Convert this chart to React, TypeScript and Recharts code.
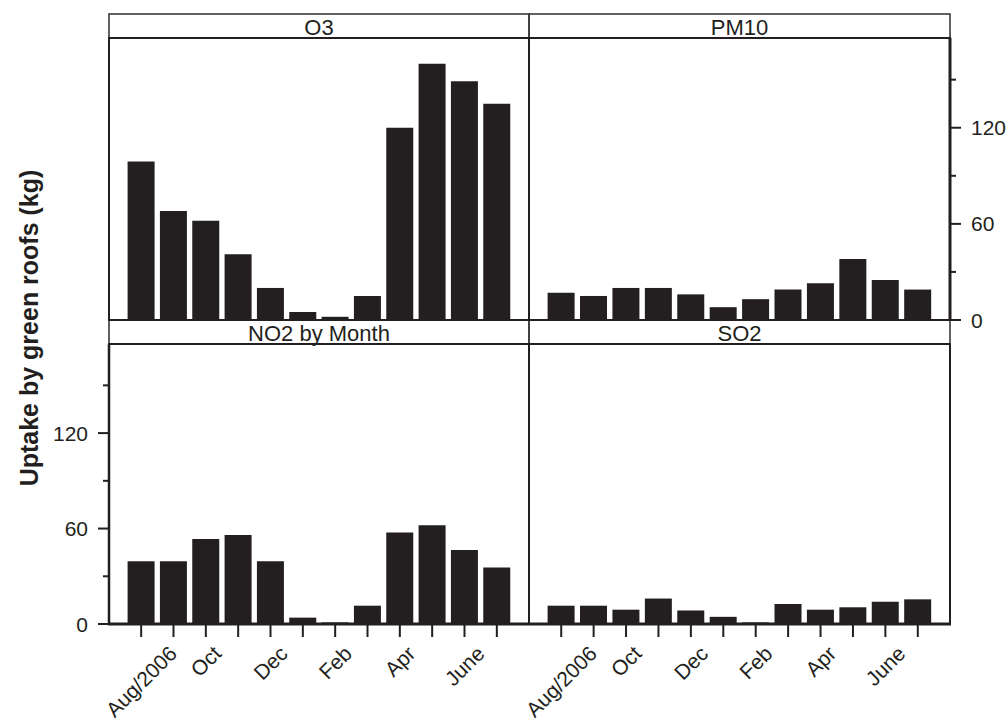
import { Bar, BarChart, XAxis, YAxis } from "recharts";

const MONTHS = ["Aug/2006", "Sep", "Oct", "Nov", "Dec", "Jan", "Feb", "Mar", "Apr", "May", "June", "Jul"];
const LABELLED_MONTHS = ["Aug/2006", "Oct", "Dec", "Feb", "Apr", "June"];

const O3 = [99, 68, 62, 41, 20, 5, 2, 15, 120, 160, 149, 135];
const PM10 = [17, 15, 20, 20, 16, 8, 13, 19, 23, 38, 25, 19];
const NO2 = [39.5, 39.5, 53.5, 56, 39.5, 4, 1, 11.5, 57.5, 62, 46.5, 35.5];
const SO2 = [11.5, 11.5, 9, 16, 8.5, 4.5, 1, 12.5, 9, 10.5, 14, 15.5];

const Y_DOMAIN: [number, number] = [0, 176];
const Y_TICKS = [0, 30, 60, 90, 120, 150];
const Y_LABELLED = [0, 60, 120];

const INK = "#231f20";
const FONT = "'Liberation Sans', Arial, Helvetica, sans-serif";

const data = MONTHS.map((month, i) => ({ month, O3: O3[i], PM10: PM10[i], NO2: NO2[i], SO2: SO2[i] }));

// panel grid (page pixels)
const L = 109;
const M = 529;
const R = 950;
const STRIP_TOP = 14;
const TOP_PLOT = 38;
const MID = 320;
const BOTTOM_PLOT = 344;
const BASE = 624;

let measureCtx: CanvasRenderingContext2D | null = null;
function textWidth(s: string, font: string) {
  if (!measureCtx) measureCtx = document.createElement("canvas").getContext("2d");
  if (!measureCtx) return s.length * 10;
  measureCtx.font = font;
  return measureCtx.measureText(s).width;
}

function YTick({ x, y, payload, side }: any) {
  const v = payload.value;
  const major = Y_LABELLED.includes(v);
  const dir = side === "right" ? 1 : -1;
  return (
    <g>
      <line x1={x} x2={x + dir * (major ? 11 : 6)} y1={y} y2={y} stroke={INK} strokeWidth={2} />
      {major && (
        <text x={x + dir * 21} y={y} textAnchor={side === "right" ? "start" : "end"} dominantBaseline="central" fontSize={21} fontFamily={FONT} fill={INK}>
          {v}
        </text>
      )}
    </g>
  );
}

function XTick({ x, y, payload }: any) {
  const label = payload.value as string;
  const show = LABELLED_MONTHS.includes(label);
  const w = show ? textWidth(label, `21px ${FONT}`) : 0;
  const cy = y + 20 + (w + 16) / 2.83;
  return (
    <g>
      <line x1={x} x2={x} y1={y} y2={y + 13} stroke={INK} strokeWidth={2} />
      {show && (
        <text x={x} y={cy} textAnchor="middle" dominantBaseline="central" transform={`rotate(-45 ${x} ${cy})`} fontSize={21} fontFamily={FONT} fill={INK}>
          {label}
        </text>
      )}
    </g>
  );
}

type PanelProps = {
  dataKey: string;
  left: number;
  top: number;
  plotW: number;
  plotH: number;
  yAxis?: "left" | "right";
  xAxis?: boolean;
};

function Panel({ dataKey, left, top, plotW, plotH, yAxis, xAxis }: PanelProps) {
  const axisW = 60;
  const axisH = 96;
  const width = plotW + (yAxis ? axisW : 0);
  const height = plotH + (xAxis ? axisH : 0);
  return (
    <div style={{ position: "absolute", left: yAxis === "left" ? left - axisW : left, top }}>
      <BarChart width={width} height={height} data={data} margin={{ top: 0, right: 0, bottom: 0, left: 0 }} barCategoryGap="8%">
        <XAxis
          dataKey="month"
          hide={!xAxis}
          height={axisH}
          padding={{ left: 16, right: 16 }}
          interval={0}
          axisLine={false}
          tickLine={false}
          tickSize={0}
          tickMargin={0}
          tick={(p: any) => <XTick {...p} />}
        />
        <YAxis
          type="number"
          domain={Y_DOMAIN}
          ticks={Y_TICKS}
          interval={0}
          hide={!yAxis}
          orientation={yAxis ?? "left"}
          width={axisW}
          axisLine={false}
          tickLine={false}
          tickSize={0}
          tickMargin={0}
          allowDataOverflow
          tick={(p: any) => <YTick {...p} side={yAxis} />}
        />
        <Bar dataKey={dataKey} fill={INK} isAnimationActive={false} />
      </BarChart>
    </div>
  );
}

const STRIPS = [
  { label: "O3", x0: L, x1: M, y0: STRIP_TOP, y1: TOP_PLOT },
  { label: "PM10", x0: M, x1: R, y0: STRIP_TOP, y1: TOP_PLOT },
  { label: "NO2 by Month", x0: L, x1: M, y0: MID, y1: BOTTOM_PLOT },
  { label: "SO2", x0: M, x1: R, y0: MID, y1: BOTTOM_PLOT },
];

export default function App() {
  return (
    <div style={{ position: "absolute", left: 0, top: 0, width: 1007, height: 720, background: "#fff", overflow: "hidden" }}>
      <style>{`.recharts-surface, .recharts-wrapper { overflow: visible !important; }`}</style>
      <Panel dataKey="O3" left={L} top={TOP_PLOT} plotW={M - L} plotH={MID - TOP_PLOT} />
      <Panel dataKey="PM10" left={M} top={TOP_PLOT} plotW={R - M} plotH={MID - TOP_PLOT} yAxis="right" />
      <Panel dataKey="NO2" left={L} top={BOTTOM_PLOT} plotW={M - L} plotH={BASE - BOTTOM_PLOT} yAxis="left" xAxis />
      <Panel dataKey="SO2" left={M} top={BOTTOM_PLOT} plotW={R - M} plotH={BASE - BOTTOM_PLOT} xAxis />
      <svg width={1007} height={720} style={{ position: "absolute", left: 0, top: 0, pointerEvents: "none" }}>
        {STRIPS.map((s) => (
          <g key={s.label}>
            <rect x={s.x0} y={s.y0} width={s.x1 - s.x0} height={s.y1 - s.y0} fill="none" stroke="#3a3a3a" strokeWidth={1.6} />
            <text x={(s.x0 + s.x1) / 2} y={(s.y0 + s.y1) / 2 + 1.5} textAnchor="middle" dominantBaseline="central" fontSize={22} fontFamily={FONT} fill={INK}>
              {s.label}
            </text>
          </g>
        ))}
        <rect x={L} y={TOP_PLOT} width={M - L} height={MID - TOP_PLOT} fill="none" stroke={INK} strokeWidth={2} />
        <rect x={M} y={TOP_PLOT} width={R - M} height={MID - TOP_PLOT} fill="none" stroke={INK} strokeWidth={2} />
        <rect x={L} y={BOTTOM_PLOT} width={M - L} height={BASE - BOTTOM_PLOT} fill="none" stroke={INK} strokeWidth={2} />
        <rect x={M} y={BOTTOM_PLOT} width={R - M} height={BASE - BOTTOM_PLOT} fill="none" stroke={INK} strokeWidth={2} />
        <line x1={R} x2={R} y1={TOP_PLOT} y2={MID} stroke={INK} strokeWidth={3} />
        <line x1={L} x2={L} y1={BOTTOM_PLOT} y2={BASE} stroke={INK} strokeWidth={2.5} />
        <line x1={L - 1} x2={R + 1} y1={BASE} y2={BASE} stroke={INK} strokeWidth={3} />
        <text
          x={29}
          y={328}
          textAnchor="middle"
          dominantBaseline="central"
          transform="rotate(-90 29 328)"
          fontSize={25}
          fontWeight="bold"
          fontFamily={FONT}
          fill={INK}
        >
          Uptake by green roofs (kg)
        </text>
      </svg>
    </div>
  );
}
